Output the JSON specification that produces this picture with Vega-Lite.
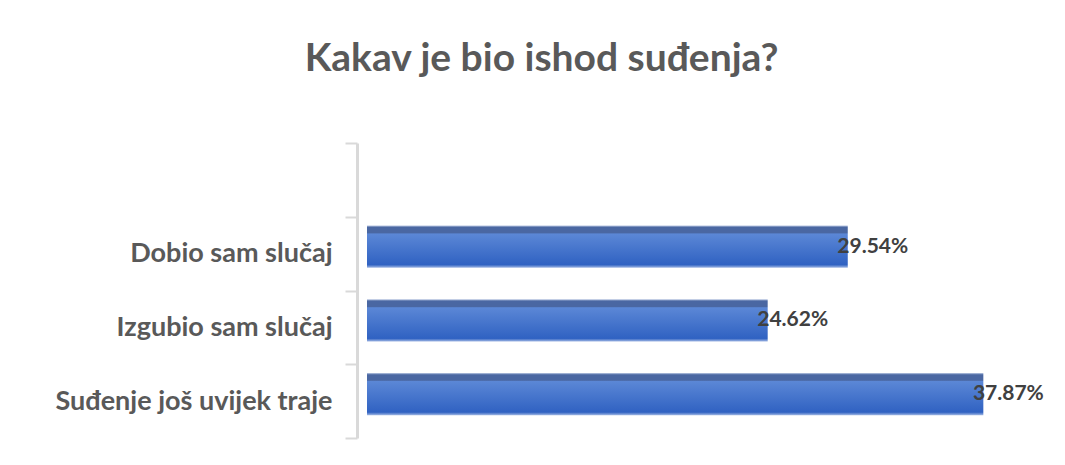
{
  "$schema": "https://vega.github.io/schema/vega-lite/v6.json",
  "width": 651,
  "height": 295,
  "autosize": {"type": "none"},
  "padding": {"left": 367, "top": 143, "right": 47, "bottom": 27},
  "background": "white",
  "title": {
    "text": "Kakav je bio ishod suđenja?",
    "font": "Lato",
    "fontSize": 39,
    "fontWeight": "bold",
    "color": "#595959",
    "anchor": "middle",
    "frame": "group",
    "baseline": "alphabetic",
    "offset": 19,
    "dx": -151
  },
  "config": {"view": {"stroke": null}},
  "data": {
    "values": [
      {"category": "Dobio sam slučaj", "value": 29.54, "label": "29.54%"},
      {"category": "Izgubio sam slučaj", "value": 24.62, "label": "24.62%"},
      {"category": "Suđenje još uvijek traje", "value": 37.87, "label": "37.87%"}
    ]
  },
  "encoding": {
    "y": {
      "field": "category",
      "type": "nominal",
      "sort": null,
      "scale": {
        "domain": [" ", "Dobio sam slučaj", "Izgubio sam slučaj", "Suđenje još uvijek traje"],
        "paddingInner": 0,
        "paddingOuter": 0
      },
      "axis": {
        "title": null,
        "offset": 10,
        "tickBand": "extent",
        "domainColor": "#d9d9d9",
        "domainWidth": 3,
        "tickColor": "#d9d9d9",
        "tickWidth": 2,
        "tickSize": 12,
        "labelPadding": 13,
        "labelFont": "Lato",
        "labelFontSize": 27,
        "labelFontWeight": "bold",
        "labelColor": "#595959",
        "labelLimit": 400
      }
    },
    "x": {
      "field": "value",
      "type": "quantitative",
      "scale": {"domain": [0, 40], "nice": false},
      "axis": null
    }
  },
  "layer": [
    {
      "mark": {
        "type": "bar",
        "height": {"band": 0.57},
        "yOffset": -7,
        "color": {
          "gradient": "linear",
          "x1": 0, "y1": 0, "x2": 0, "y2": 1,
          "stops": [
            {"offset": 0, "color": "#b8c6e2"},
            {"offset": 0.04, "color": "#4a67a2"},
            {"offset": 0.17, "color": "#4a67a2"},
            {"offset": 0.2, "color": "#5b87d6"},
            {"offset": 0.93, "color": "#3062c2"},
            {"offset": 1, "color": "#9fb6e3"}
          ]
        }
      }
    },
    {
      "mark": {
        "type": "text",
        "align": "center",
        "baseline": "middle",
        "dx": 25,
        "dy": -7,
        "font": "Lato",
        "fontSize": 21,
        "fontWeight": "bold",
        "color": "#404040"
      },
      "encoding": {"text": {"field": "label"}}
    }
  ]
}
